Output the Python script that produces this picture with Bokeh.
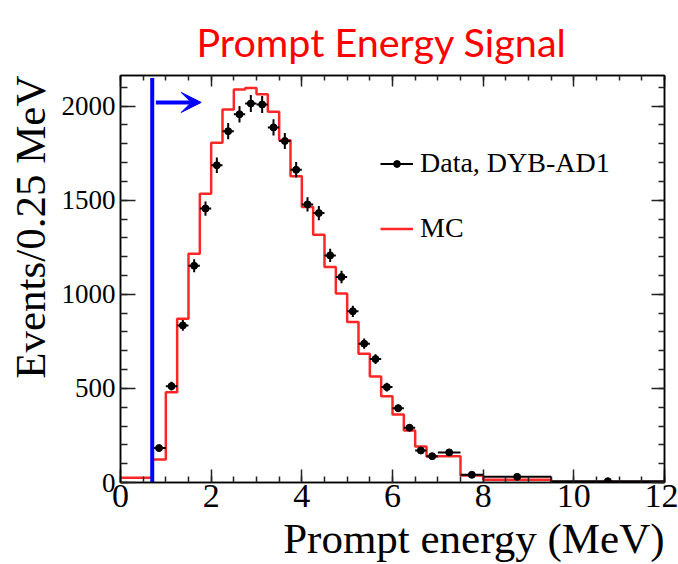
from bokeh.plotting import figure
from bokeh.models import (ColumnDataSource, Range1d, LinearAxis, SingleIntervalTicker,
                          Legend, LegendItem, Arrow, VeeHead, CustomJSTickFormatter, Title)
from bokeh.embed import file_html
from bokeh.resources import INLINE

# ---------------- data ----------------
bin_edges = [0.0, 0.7, 1.0, 1.25, 1.5, 1.75, 2.0, 2.25, 2.5, 2.75, 3.0, 3.25, 3.5,
             3.75, 4.0, 4.25, 4.5, 4.75, 5.0, 5.25, 5.5, 5.75, 6.0, 6.25, 6.5,
             6.75, 7.0, 7.5, 8.0, 9.5, 12.0]

mc_counts = [25, 122, 480, 870, 1216, 1535, 1805, 1982, 2088, 2097, 2064, 1970,
             1819, 1628, 1464, 1317, 1145, 1004, 853, 684, 564, 459, 362, 277,
             191, 138, 140, 37, 14, 2]

data_counts = [183, 512, 835, 1152, 1456, 1686, 1867, 1957, 2014, 2009, 1887,
               1815, 1662, 1478, 1432, 1207, 1092, 910, 738, 656, 507, 395, 291,
               170, 140, 160, 41, 30, 7]

data_errors = [14, 23, 29, 34, 38, 41, 43, 44, 45, 45, 43, 43, 41, 38, 38, 35,
               33, 30, 27, 26, 23, 20, 17, 13, 12, 9, 6, 5, 3]

threshold = 0.7
threshold_top = 2150
arrow_x = [0.78, 1.78]
arrow_y = 2020

title_text = "Prompt Energy Signal"
x_label = "Prompt energy (MeV)"
y_label = "Events/0.25 MeV"
legend_labels = ["Data, DYB-AD1", "MC"]

x_min, x_max = 0, 12
y_min, y_max = 0, 2163

# ---------------- derived ----------------
data_lo = bin_edges[1:-1]
data_hi = bin_edges[2:]
data_x = [(a + b) / 2 for a, b in zip(data_lo, data_hi)]

data_src = ColumnDataSource(dict(
    x=data_x, y=data_counts, lo=data_lo, hi=data_hi,
    ylo=[c - e for c, e in zip(data_counts, data_errors)],
    yhi=[c + e for c, e in zip(data_counts, data_errors)],
))

SERIF = "Liberation Serif"

p = figure(width=678, height=564, x_range=Range1d(x_min, x_max),
           y_range=Range1d(y_min, y_max), output_backend="svg",
           toolbar_location=None, min_border_left=120, min_border_right=14,
           min_border_top=75, min_border_bottom=82)
p.xgrid.visible = False
p.ygrid.visible = False
p.outline_line_color = "black"
p.outline_line_width = 1.5
p.background_fill_color = "white"
p.border_fill_color = "white"


def style_axis(ax, interval, minor, tin, tmin, font_size, show_labels=True):
    ax.ticker = SingleIntervalTicker(interval=interval, num_minor_ticks=minor)
    ax.major_tick_in = tin
    ax.major_tick_out = 0
    ax.minor_tick_in = tmin
    ax.minor_tick_out = 0
    ax.axis_line_color = "black"
    ax.axis_line_width = 1.5
    ax.major_tick_line_color = "#222222"
    ax.major_tick_line_width = 1.5
    ax.minor_tick_line_color = "#222222"
    ax.minor_tick_line_width = 1.5
    ax.major_label_text_font = SERIF
    ax.major_label_text_color = "black"
    ax.major_label_text_font_size = font_size
    if not show_labels:
        ax.formatter = CustomJSTickFormatter(code="return ''")
        ax.major_label_standoff = 0


style_axis(p.xaxis[0], 2, 4, 13, 6, "34px")
p.xaxis[0].major_label_standoff = 2
style_axis(p.yaxis[0], 500, 5, 15, 7, "27px")
p.yaxis[0].major_label_standoff = 5

top_axis = LinearAxis()
style_axis(top_axis, 2, 4, 11, 5, "2px", show_labels=False)
p.add_layout(top_axis, "above")
right_axis = LinearAxis()
style_axis(right_axis, 500, 5, 13, 6, "2px", show_labels=False)
p.add_layout(right_axis, "right")

# axis titles, right/top aligned as in the reference
p.add_layout(Title(text=x_label, align="right", text_font=SERIF,
                   text_font_size="43px", text_font_style="normal",
                   text_color="black", standoff=6, offset=0), "below")
p.add_layout(Title(text=y_label, align="right", text_font=SERIF,
                   text_font_size="43px", text_font_style="normal",
                   text_color="black", standoff=9, offset=0), "left")

# title
p.title.text = title_text
p.title.text_font = "Lato"
p.title.text_font_size = "39.5px"
p.title.text_font_style = "normal"
p.title.text_color = "#ff0000"
p.title.align = "left"
p.title.offset = 76
p.title.standoff = 22

# MC histogram
mc_r = p.step(x=bin_edges, y=mc_counts + [mc_counts[-1]], mode="after",
              line_color="#ff2626", line_width=2.5)

# data points with error bars
xerr_r = p.segment(x0="lo", y0="y", x1="hi", y1="y", source=data_src,
                   line_color="black", line_width=2)
p.segment(x0="x", y0="ylo", x1="x", y1="yhi", source=data_src,
          line_color="black", line_width=2)
p.segment(x0=[bin_edges[-2]], y0=[data_counts[-2]], x1=[bin_edges[-2]], y1=[0],
          line_color="black", line_width=1.5)
pts_r = p.scatter(x="x", y="y", source=data_src, size=7, marker="circle",
                  color="black")

# threshold line and arrow
p.segment(x0=[threshold], y0=[0], x1=[threshold], y1=[threshold_top],
          line_color="#0000ff", line_width=4)
p.add_layout(Arrow(end=VeeHead(size=20, fill_color="#0000ff", line_color="#0000ff"),
                   x_start=arrow_x[0], y_start=arrow_y, x_end=arrow_x[1], y_end=arrow_y,
                   line_color="#0000ff", line_width=4))

# legend
legend = Legend(items=[LegendItem(label=legend_labels[0], renderers=[xerr_r, pts_r]),
                       LegendItem(label=legend_labels[1], renderers=[mc_r])],
                location=(260, 237), orientation="vertical",
                label_text_font=SERIF, label_text_font_size="28px",
                label_text_color="black", glyph_width=33, glyph_height=17,
                label_height=34, spacing=31, padding=0, margin=0,
                label_standoff=7, border_line_alpha=0, background_fill_alpha=0)
p.add_layout(legend)

open("out.html", "w").write(file_html(p, INLINE))
